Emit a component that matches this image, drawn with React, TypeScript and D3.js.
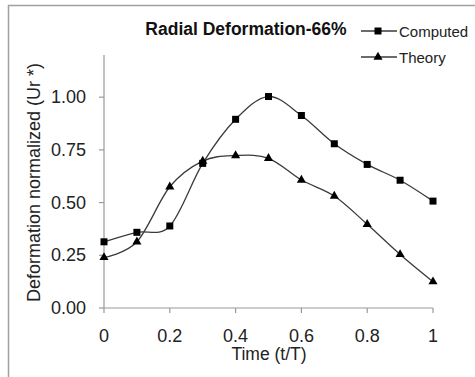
import React from "react";
import * as d3 from "d3";

const times = [0, 0.1, 0.2, 0.3, 0.4, 0.5, 0.6, 0.7, 0.8, 0.9, 1.0];
const computed = [0.314, 0.359, 0.389, 0.686, 0.895, 1.003, 0.913, 0.779, 0.681, 0.606, 0.507];
const theory = [0.24, 0.314, 0.575, 0.697, 0.723, 0.71, 0.607, 0.531, 0.397, 0.254, 0.125];
const xTicks = [0, 0.2, 0.4, 0.6, 0.8, 1];
const xTickLabels = ["0", "0.2", "0.4", "0.6", "0.8", "1"];
const yTicks = [0, 0.25, 0.5, 0.75, 1.0];
const yTickLabels = ["0.00", "0.25", "0.50", "0.75", "1.00"];
const seriesNames = ["Computed", "Theory"];
const titleText = "Radial Deformation-66%";
const xTitle = "Time (t/T)";
const yTitle = "Deformation normalized (Ur *)";

const W = 475;
const H = 377;
const FONT = "'Liberation Sans', Arial, sans-serif";

export default function App() {
  const x = d3.scaleLinear().domain([0, 1]).range([104, 433]);
  const y = d3.scaleLinear().domain([0, 1.2]).range([308, 55]);
  const line = d3
    .line<number>()
    .x((_, i) => x(times[i]))
    .y((d) => y(d))
    .curve(d3.curveCatmullRom.alpha(0));

  const sq = d3.symbol().type(d3.symbolSquare).size(49)();
  const tri = d3.symbol().type(d3.symbolTriangle).size(36)();
  const lineColor = "#3a3a3a";
  const axisColor = "#999";

  return (
    <svg
      width={W}
      height={H}
      style={{ position: "absolute", left: 0, top: 0, background: "#fff" }}
      fontFamily={FONT}
    >
      <rect x={0} y={0} width={W} height={H} fill="#fff" />
      <path d={`M8.5,${H} V5.5 H${W}`} fill="none" stroke="#a0a0a0" strokeWidth={1.5} />

      {/* title */}
      <text x={246} y={35} textAnchor="middle" fontSize={17.5} fontWeight="bold" fill="#111">
        {titleText}
      </text>

      {/* axes */}
      <line x1={x(0)} x2={x(0)} y1={y(1.2)} y2={y(0)} stroke={axisColor} strokeWidth={1.2} />
      <line x1={x(0)} x2={x(1)} y1={y(0)} y2={y(0)} stroke={axisColor} strokeWidth={1.2} />
      {yTicks.map((t, i) => (
        <g key={"y" + i}>
          <line x1={x(0) - 5} x2={x(0)} y1={y(t)} y2={y(t)} stroke={axisColor} strokeWidth={1.2} />
          <text x={86} y={y(t) + 6} textAnchor="end" fontSize={18} fill="#222">
            {yTickLabels[i]}
          </text>
        </g>
      ))}
      {xTicks.map((t, i) => (
        <g key={"x" + i}>
          <line x1={x(t)} x2={x(t)} y1={y(0)} y2={y(0) + 5} stroke={axisColor} strokeWidth={1.2} />
          <text x={x(t)} y={342} textAnchor="middle" fontSize={18} fill="#222">
            {xTickLabels[i]}
          </text>
        </g>
      ))}
      <text x={269} y={360} textAnchor="middle" fontSize={17.5} fill="#222">
        {xTitle}
      </text>
      <text
        transform={`translate(40,182.5) rotate(-90)`}
        textAnchor="middle"
        fontSize={18}
        fill="#222"
      >
        {yTitle}
      </text>

      {/* series */}
      <path d={line(computed) || ""} fill="none" stroke={lineColor} strokeWidth={1.3} />
      <path d={line(theory) || ""} fill="none" stroke={lineColor} strokeWidth={1.3} />
      {computed.map((v, i) => (
        <path key={"c" + i} d={sq || ""} transform={`translate(${x(times[i])},${y(v)})`} fill="#000" />
      ))}
      {theory.map((v, i) => (
        <path key={"t" + i} d={tri || ""} transform={`translate(${x(times[i])},${y(v)})`} fill="#000" />
      ))}

      {/* legend */}
      <line x1={361} x2={397} y1={31} y2={31} stroke={lineColor} strokeWidth={1.3} />
      <path d={sq || ""} transform="translate(378,31)" fill="#000" />
      <text x={399} y={36.5} fontSize={15} fill="#222">
        {seriesNames[0]}
      </text>
      <line x1={361} x2={397} y1={57} y2={57} stroke={lineColor} strokeWidth={1.3} />
      <path d={tri || ""} transform="translate(378,57)" fill="#000" />
      <text x={399} y={62.5} fontSize={15} fill="#222">
        {seriesNames[1]}
      </text>
    </svg>
  );
}
